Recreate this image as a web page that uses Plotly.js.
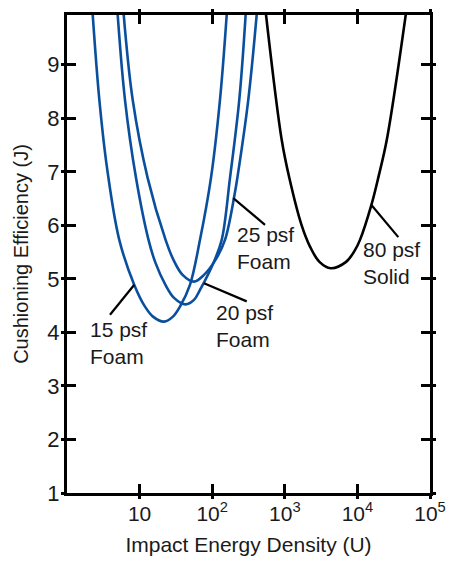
<!DOCTYPE html>
<html>
<head>
<meta charset="utf-8">
<script src="https://cdn.plot.ly/plotly-3.0.1.min.js"></script>
<style>html,body{margin:0;padding:0;background:#fff;}#chart{width:453px;height:564px;}</style>
</head>
<body>
<div id="chart"></div>
<script>
// Impact energy density (U) and cushioning efficiency (J)
const foam15X = [2.26, 2.79, 3.59, 5.25, 8.45, 11.87, 15.3, 21.7, 28.8, 36.0, 49.4, 67.9, 96.2, 128, 158.5];
const foam15Y = [9.935, 8.346, 7.037, 5.729, 4.888, 4.482, 4.295, 4.202, 4.295, 4.482, 4.888, 5.729, 6.888, 8.346, 9.935];

const foam20X = [4.99, 6.29, 8.92, 13.27, 16.56, 22.7, 29.8, 42.9, 56.1, 67.9, 103.5, 135.2, 175.9, 236, 289];
const foam20Y = [9.935, 8.346, 6.888, 5.729, 5.299, 4.888, 4.645, 4.523, 4.607, 4.794, 5.293, 5.729, 6.888, 8.346, 9.935];

const foam25X = [6.04, 8.03, 12.9, 22.8, 29.3, 39.1, 56.1, 77.1, 111, 150, 203, 222, 314, 410];
const foam25Y = [9.935, 8.346, 6.888, 5.729, 5.355, 5.075, 4.949, 5.075, 5.355, 5.729, 6.57, 6.888, 8.346, 9.935];

const solid80X = [551, 906, 1153, 1698, 2223, 3000, 4290, 6985, 9295, 10860, 15590, 19360, 25410, 46350];
const solid80Y = [9.935, 7.598, 6.888, 6.009, 5.604, 5.318, 5.200, 5.318, 5.542, 5.729, 6.383, 6.888, 7.598, 9.935];

// leader lines: [point on curve, end near label]
const lead15X = [8.45, 3.91],   lead15Y = [4.89, 4.33];
const lead20X = [77.1, 299],    lead20Y = [4.92, 4.58];
const lead25X = [195, 534],     lead25Y = [6.51, 6.01];
const lead80X = [15590, 36600], lead80Y = [6.38, 5.78];

const labelTexts = ['15 psf<br>Foam', '20 psf<br>Foam', '25 psf<br>Foam', '80 psf<br>Solid'];
const xTickVals = [10, 100, 1000, 10000, 100000];
const xTickText = ['10', '10<sup>2</sup>', '10<sup>3</sup>', '10<sup>4</sup>', '10<sup>5</sup>'];
const yTickVals = [1, 2, 3, 4, 5, 6, 7, 8, 9];

const BLUE = '#0a4f9e';
const FONT = '"Liberation Sans", Arial, sans-serif';
const TXT = '#1a1a1a';

function curve(x, y, color) {
  return {x: x, y: y, type: 'scatter', mode: 'lines', line: {color: color, width: 2.6, shape: 'spline', smoothing: 1}, hoverinfo: 'skip', showlegend: false};
}
function leader(x, y) {
  return {x: x, y: y, type: 'scatter', mode: 'lines', line: {color: '#000', width: 2.2}, hoverinfo: 'skip', showlegend: false};
}

const traces = [
  curve(foam15X, foam15Y, BLUE),
  curve(foam20X, foam20Y, BLUE),
  curve(foam25X, foam25Y, BLUE),
  curve(solid80X, solid80Y, '#000'),
  leader(lead15X, lead15Y),
  leader(lead20X, lead20Y),
  leader(lead25X, lead25Y),
  leader(lead80X, lead80Y),
  {x: [], y: [], xaxis: 'x2', yaxis: 'y2', type: 'scatter', mode: 'lines', showlegend: false}
];

const labelPos = [[0.29, 4.30], [2.025, 4.62], [2.315, 6.08], [4.05, 5.80]];
const annotations = labelTexts.map((t, i) => ({
  text: t, x: labelPos[i][0], y: labelPos[i][1], xref: 'x', yref: 'y',
  xanchor: 'left', yanchor: 'top', align: 'left', showarrow: false,
  font: {family: FONT, size: 21, color: TXT}
}));

const axisCommon = {
  showgrid: false, zeroline: false, showline: true, linecolor: '#000', linewidth: 3,
  ticks: 'inside', ticklen: 9, tickwidth: 3, tickcolor: '#000', mirror: 'ticks'
};

const layout = {
  width: 453, height: 564,
  margin: {l: 67, r: 23, t: 15, b: 71},
  paper_bgcolor: '#fff', plot_bgcolor: '#fff',
  font: {family: FONT, size: 21, color: TXT},
  xaxis: Object.assign({}, axisCommon, {
    type: 'log', range: [0, 5], tickvals: xTickVals, ticktext: xTickText,
    tickfont: {family: FONT, size: 21, color: TXT},
    title: {text: 'Impact Energy Density (U)', font: {family: FONT, size: 21, color: TXT}, standoff: 14}
  }),
  yaxis: Object.assign({}, axisCommon, {
    range: [1, 9.93], tickvals: yTickVals,
    tickfont: {family: FONT, size: 22, color: TXT},
    title: {text: 'Cushioning Efficiency (J)', font: {family: FONT, size: 20, color: TXT}, standoff: 14}
  }),
  xaxis2: {type: 'log', range: [0, 5], overlaying: 'x', showgrid: false, zeroline: false, showline: false,
    ticks: 'outside', ticklen: 5, tickwidth: 3, tickcolor: '#000', mirror: 'ticks',
    tickvals: xTickVals, showticklabels: false},
  yaxis2: {range: [1, 9.93], overlaying: 'y', showgrid: false, zeroline: false, showline: false,
    ticks: 'outside', ticklen: 5, tickwidth: 3, tickcolor: '#000', mirror: 'ticks',
    tickvals: yTickVals, showticklabels: false},
  annotations: annotations,
  showlegend: false
};

Plotly.newPlot('chart', traces, layout, {displayModeBar: false, staticPlot: true});
</script>
</body>
</html>
